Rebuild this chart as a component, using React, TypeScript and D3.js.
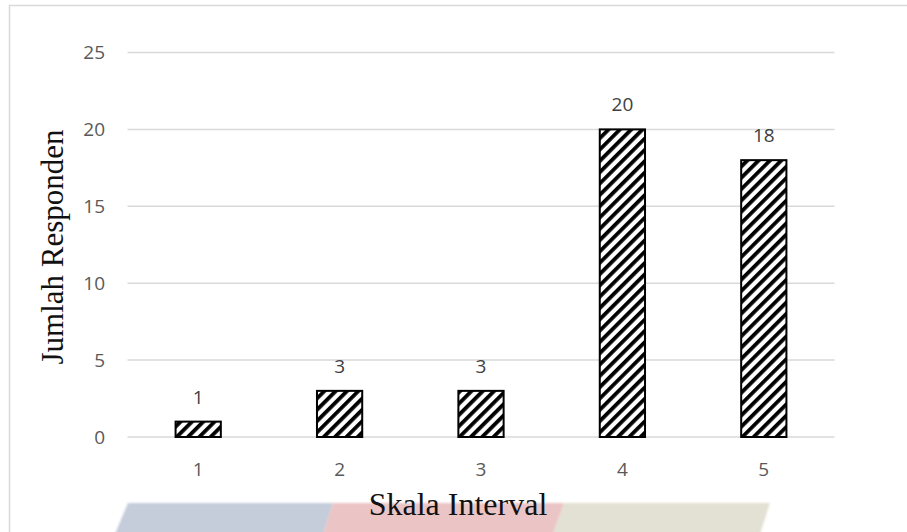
import React from "react";
import * as d3 from "d3";

const categories = ["1", "2", "3", "4", "5"];
const values = [1, 3, 3, 20, 18];
const yTicks = [0, 5, 10, 15, 20, 25];
const xTitle = "Skala Interval";
const yTitle = "Jumlah Responden";

const W = 907;
const H = 532;
const plot = { left: 127.5, right: 834.5, top: 52.5, bottom: 437 };

export default function App() {
  const x = d3
    .scaleBand<string>()
    .domain(categories)
    .range([plot.left, plot.right])
    .paddingInner(0.68)
    .paddingOuter(0.34);
  const y = d3.scaleLinear().domain([0, 25]).range([plot.bottom, plot.top]);
  const tickFont = "'Open Sans', 'Liberation Sans', sans-serif";
  const serif = "'Liberation Serif', 'Times New Roman', serif";

  return (
    <svg
      width={W}
      height={H}
      style={{ position: "absolute", left: 0, top: 0, background: "#fff" }}
    >
      <defs>
        <pattern
          id="stripes"
          patternUnits="userSpaceOnUse"
          width={8}
          height={8}
          patternTransform="rotate(45)"
        >
          <rect width={8} height={8} fill="#fff" />
          <rect width={3.8} height={8} fill="#000" />
        </pattern>
        <filter id="soft" x="-5%" y="-50%" width="110%" height="200%">
          <feGaussianBlur stdDeviation="1.2" />
        </filter>
      </defs>

      {/* watermark band */}
      <g filter="url(#soft)">
        <polygon points="128,503 333,503 323,534 115,534" fill="#c5ccda" />
        <polygon points="333,503 564,503 553,534 323,534" fill="#ebc4c6" />
        <polygon points="564,503 770,503 760,534 553,534" fill="#e3e0d4" />
      </g>

      {/* chart border */}
      <path d={`M9.5,${H} V5.5 H${W}`} fill="none" stroke="#d9d9d9" strokeWidth={1.5} />

      {/* gridlines */}
      {yTicks.map((t) => (
        <line
          key={t}
          x1={plot.left}
          x2={plot.right}
          y1={y(t)}
          y2={y(t)}
          stroke="#d9d9d9"
          strokeWidth={1.5}
        />
      ))}

      {/* y tick labels */}
      {yTicks.map((t) => (
        <text
          key={t}
          x={105}
          y={y(t)}
          dy="0.35em"
          textAnchor="end"
          fontFamily={tickFont}
          fontSize={19}
          fill="#595959"
        >
          {t}
        </text>
      ))}

      {/* bars */}
      {categories.map((c, i) => (
        <rect
          key={c}
          x={x(c)}
          y={y(values[i])}
          width={x.bandwidth()}
          height={y(0) - y(values[i])}
          fill="url(#stripes)"
          stroke="#000"
          strokeWidth={2}
        />
      ))}

      {/* data labels */}
      {categories.map((c, i) => (
        <text
          key={c}
          x={(x(c) as number) + x.bandwidth() / 2}
          y={y(values[i]) - 18}
          textAnchor="middle"
          fontFamily={tickFont}
          fontSize={19}
          fill="#404040"
        >
          {values[i]}
        </text>
      ))}

      {/* x tick labels */}
      {categories.map((c) => (
        <text
          key={c}
          x={(x(c) as number) + x.bandwidth() / 2}
          y={476}
          textAnchor="middle"
          fontFamily={tickFont}
          fontSize={19}
          fill="#595959"
        >
          {c}
        </text>
      ))}

      {/* axis titles */}
      <text
        x={458}
        y={515}
        textAnchor="middle"
        fontFamily={serif}
        fontSize={32}
        fill="#111"
      >
        {xTitle}
      </text>
      <text
        transform={`translate(63,247) rotate(-90)`}
        textAnchor="middle"
        fontFamily={serif}
        fontSize={31}
        fill="#111"
      >
        {yTitle}
      </text>
    </svg>
  );
}
